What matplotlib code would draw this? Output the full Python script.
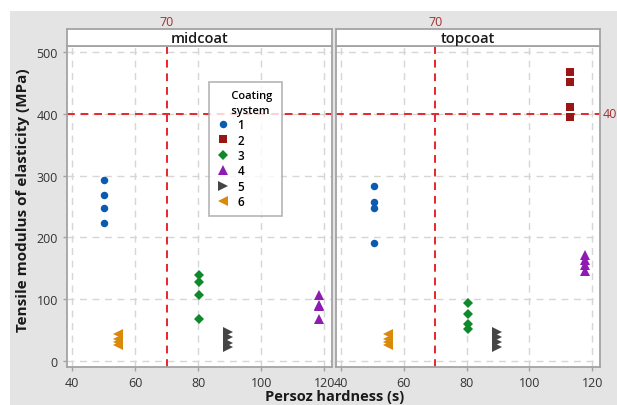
import matplotlib
matplotlib.use("Agg")
import matplotlib.pyplot as plt
from matplotlib.patches import Rectangle
from matplotlib.lines import Line2D
from matplotlib.transforms import blended_transform_factory

plt.rcParams['font.family'] = ['Open Sans', 'DejaVu Sans']

# ---- data ----
panels = ["midcoat", "topcoat"]
systems = ["1", "2", "3", "4", "5", "6"]
hardness_mid = {"1": 50.2, "3": 80.2, "4": 118.3, "5": 89.6, "6": 54.7}
hardness_top = {"1": 50.5, "2": 113.0, "3": 80.4, "4": 117.8, "5": 89.8, "6": 54.9}
modulus_mid = {
    "1": [293, 269, 248, 223],
    "3": [139, 128, 107, 68],
    "4": [106, 91, 89, 68],
    "5": [46, 38, 29, 22],
    "6": [43, 36, 30, 26],
}
modulus_top = {
    "1": [283, 258, 248, 191],
    "2": [468, 451, 411, 395],
    "3": [93, 76, 59, 52],
    "4": [171, 163, 156, 146],
    "5": [46, 38, 30, 22],
    "6": [43, 36, 30, 26],
}
ref_x = 70
ref_y = 400
x_ticks = [40, 60, 80, 100, 120]
y_ticks = [0, 100, 200, 300, 400, 500]

colors = {"1": "#0A5BB0", "2": "#9A1515", "3": "#0F8A2A", "4": "#8E1CB3",
          "5": "#454545", "6": "#D98A0B"}
markers = {"1": "o", "2": "s", "3": "D", "4": "^", "5": ">", "6": "<"}
msizes = {"1": 5.4, "2": 5.4, "3": 4.8, "4": 6.6, "5": 6.6, "6": 6.6}

W, H = 617, 406
fig = plt.figure(figsize=(W / 100, H / 100), dpi=100)
fig.patch.set_facecolor("white")
fig.patches.append(Rectangle((10 / W, 0), 1, 1 - 12 / H, transform=fig.transFigure,
                             facecolor="#E4E4E4", edgecolor="none", zorder=-10))

def fx(px):
    return px / W

def fy(py):
    return 1 - py / H

plot_top, plot_bot, strip_top = 47, 368, 30
boxes = [(67, 332), (336, 600)]
data_sets = [(hardness_mid, modulus_mid), (hardness_top, modulus_top)]
border = "#A3A3A3"
axes = []
for i, ((l, r), name, (hx, my)) in enumerate(zip(boxes, panels, data_sets)):
    ax = fig.add_axes([fx(l), fy(plot_bot), (r - l) / W, (plot_bot - plot_top) / H])
    axes.append(ax)
    ax.set_xlim(38.4, 122.5)
    ax.set_ylim(-10, 510)
    ax.set_xticks(x_ticks)
    ax.set_yticks(y_ticks)
    ax.grid(True, color="#D6D6D6", linestyle=(0, (5, 4)), linewidth=1.0)
    ax.set_axisbelow(True)
    for s in ax.spines.values():
        s.set_color(border)
        s.set_linewidth(1.3)
    ax.tick_params(axis="both", colors=border, labelcolor="#333333", labelsize=9,
                   length=3, width=1)
    if i == 1:
        ax.tick_params(axis="y", labelleft=False, length=0)
    for sysname in systems:
        if sysname in my:
            ys = my[sysname]
            ax.plot([hx[sysname]] * len(ys), ys, linestyle="none",
                    marker=markers[sysname], color=colors[sysname],
                    markersize=msizes[sysname], markeredgewidth=0, zorder=3)
    ax.axvline(ref_x, color="#E8262C", linestyle=(0, (4, 3)), linewidth=1.4, zorder=2)
    ax.axhline(ref_y, color="#E8262C", linestyle=(0, (4, 3)), linewidth=1.4, zorder=2)
    # strip
    sax = fig.add_axes([fx(l), fy(plot_top), (r - l) / W, (plot_top - strip_top) / H])
    sax.set_xticks([]); sax.set_yticks([])
    sax.set_facecolor("white")
    for s in sax.spines.values():
        s.set_color(border)
        s.set_linewidth(1.3)
    sax.text(0.5, 0.45, name, ha="center", va="center", fontsize=10.5,
             fontweight="semibold", color="#1A1A1A", transform=sax.transAxes)
    tr = blended_transform_factory(ax.transData, fig.transFigure)
    ax.text(ref_x, fy(22), str(ref_x), ha="center", va="center", fontsize=9,
            color="#A0302F", transform=tr, clip_on=False)

ax2 = axes[1]
tr = blended_transform_factory(ax2.transAxes, ax2.transData)
ax2.text(1.012, ref_y, str(ref_y), ha="left", va="center", fontsize=9,
         color="#A0302F", transform=tr, clip_on=False)

fig.text(fx(23), fy(200), "Tensile modulus of elasticity (MPa)", rotation=90,
         ha="center", va="center", fontsize=11, fontweight="bold", color="#1A1A1A")
fig.text(fx(335), fy(397), "Persoz hardness (s)", ha="center", va="center",
         fontsize=10.5, fontweight="bold", color="#1A1A1A")

handles = [Line2D([], [], linestyle="none", marker=markers[s], color=colors[s],
                  markersize=msizes[s], markeredgewidth=0) for s in systems]
leg = fig.legend(handles, systems, title="     Coating\n     system",
                 loc="upper left", bbox_to_anchor=(fx(209), fy(83), fx(282) - fx(209), 0),
                 mode="expand",
                 frameon=True, fancybox=False, fontsize=8.5, title_fontsize=8,
                 handlelength=1.0, handletextpad=0.7, labelspacing=0.2,
                 borderpad=0.7, borderaxespad=0)
leg.get_frame().set_edgecolor(border)
leg.get_frame().set_linewidth(1.2)
leg._legend_box.align = "left"
leg.get_title().set_fontweight("semibold")
leg.get_title().set_linespacing(1.45)
for t in leg.get_texts():
    t.set_fontweight("semibold")

fig.savefig("out.png", dpi=100, facecolor=fig.get_facecolor())
